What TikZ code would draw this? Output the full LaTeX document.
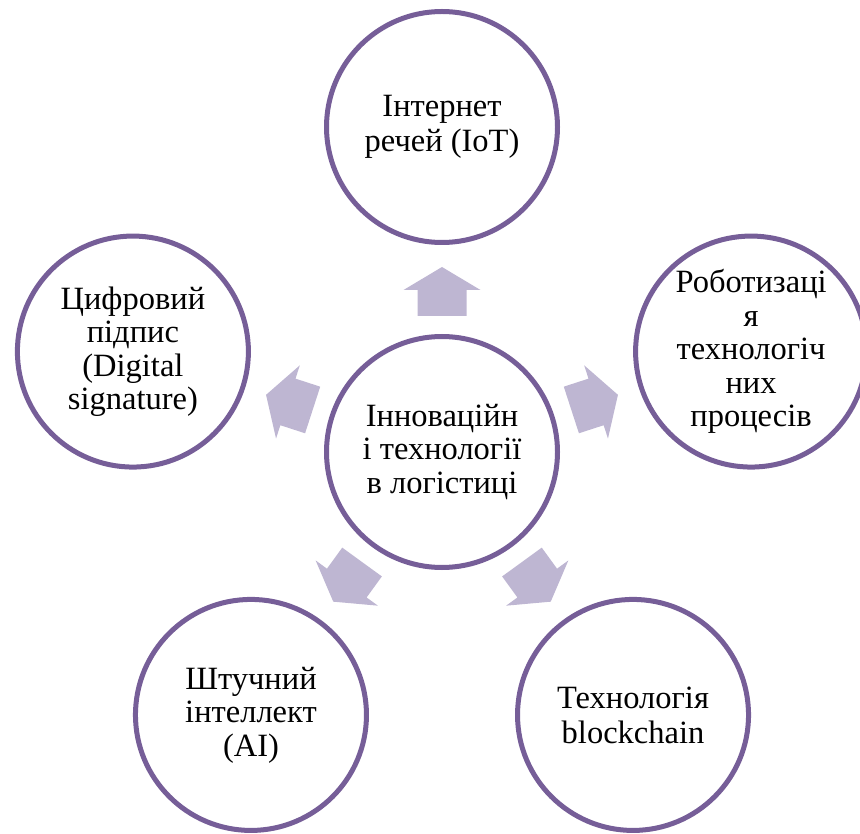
\documentclass[tikz,border=0pt]{standalone}
\usepackage{fontspec}
\setmainfont{Liberation Serif}
\definecolor{ringc}{RGB}{118,94,152}
\definecolor{arrowc}{RGB}{190,182,210}
\begin{document}
\begin{tikzpicture}[x=1pt,y=1pt,
  ring/.style={circle, draw=ringc, line width=5pt, fill=white, minimum size=231pt,
    inner sep=0pt, align=center, font=\fontsize{32.5}{35}\selectfont},
  ringtight/.style={ring, font=\fontsize{32.5}{33.5}\selectfont},
  blockarrow/.style={fill=arrowc, draw=none}]
\useasboundingbox (0,0) rectangle (860,-834);
\coordinate (c) at (442,-452);
\foreach \a in {90,162,18,234,306}
  \fill[blockarrow, shift={(c)}, rotate=\a]
    (136,-24.5) -- (162,-24.5) -- (162,-38.5) -- (185,0) -- (162,38.5)
    -- (162,24.5) -- (136,24.5) -- cycle;
\node[ringtight] (center) at (c) {Інноваційн\\і технології\\в логістиці};
\node[ring] (iot) at ([shift={(90:325)}]c) {Інтернет\\речей (IoT)};
\node[ringtight] (robot) at ([shift={(18:325)}]c) {Роботизаці\\я\\технологіч\\них\\процесів};
\node[ringtight] (sign) at ([shift={(162:325)}]c) {Цифровий\\підпис\\(Digital\\signature)};
\node[ringtight] (ai) at ([shift={(234:325)}]c) {Штучний\\інтеллект\\(AI)};
\node[ring] (block) at ([shift={(306:325)}]c) {Технологія\\blockchain};
\end{tikzpicture}
\end{document}
